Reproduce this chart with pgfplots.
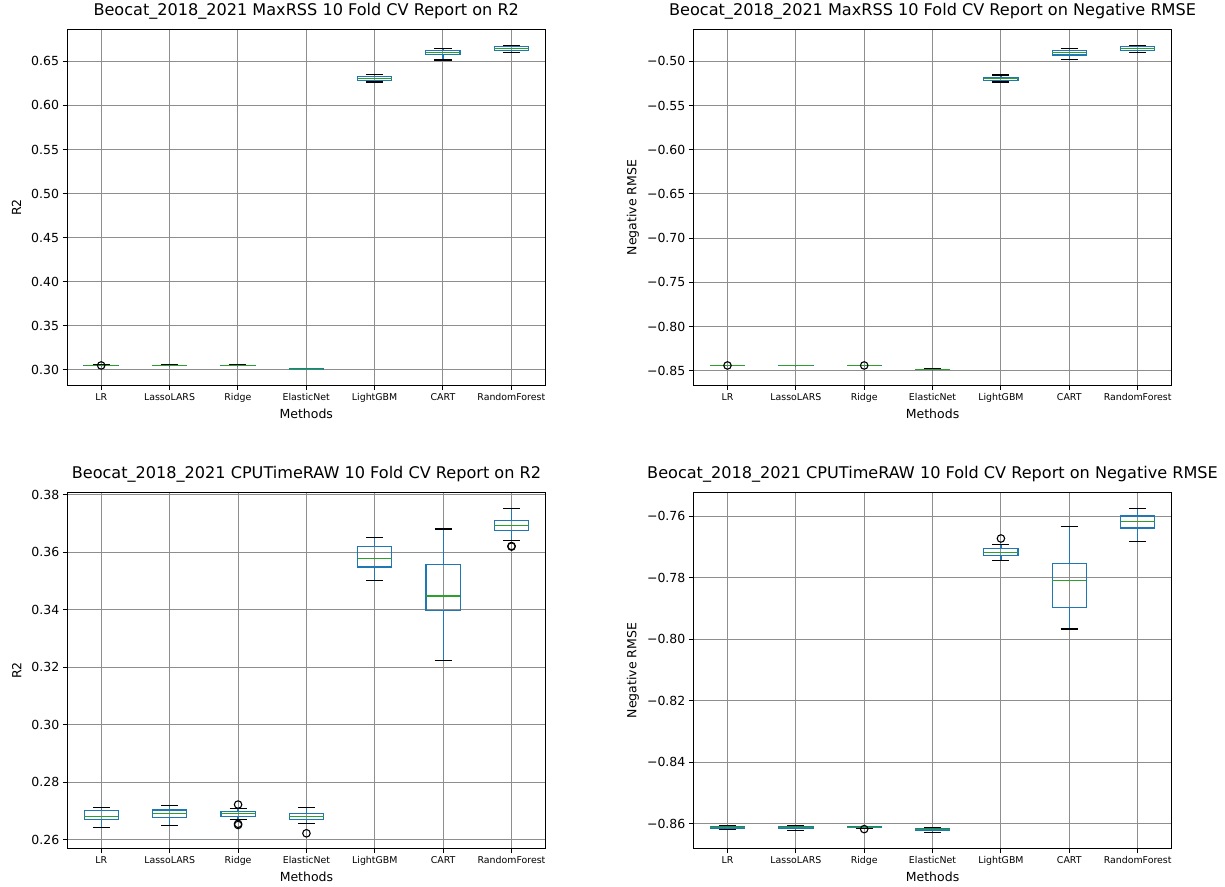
\documentclass[border=0pt]{standalone}
\usepackage{fontspec}
\setmainfont{DejaVu Sans}
\usepackage{pgfplots}
\pgfplotsset{compat=1.18}
\usepgfplotslibrary{statistics}
\definecolor{mblue}{HTML}{1F77B4}
\definecolor{mgreen}{HTML}{2CA02C}
\definecolor{mgrid}{HTML}{8E8E8E}
\newcommand\fs[1]{\fontsize{#1}{#1}\selectfont}
\pgfplotsset{
  mpl/.style={
    scale only axis, width=478.5pt, height=356.5pt, anchor=north west,
    xmin=0.5, xmax=7.5, xtick={1,2,3,4,5,6,7},
    xticklabels={LR,LassoLARS,Ridge,ElasticNet,LightGBM,CART,RandomForest},
    grid=major, grid style={mgrid, line width=1pt},
    tick align=outside, tick pos=left, major tick length=4.4pt,
    every tick/.style={black, line width=1pt},
    axis line style={black, line width=1pt},
    x tick label style={font=\fs{9.4}},
    y tick label style={font=\fs{12.5}},
    title style={font=\fs{16.1}, at={(axis description cs:0.5,1.021)}, anchor=base},
    xlabel={Methods},
    xlabel style={font=\fs{12.5}, at={(axis description cs:0.5,-0.0926)}, anchor=base},
    ylabel style={font=\fs{12.5}, anchor=base},
    boxplot/draw direction=y,
    boxplot/box extend=0.5,
    boxplot/whisker extend=0.25,
    boxplot/every box/.style={draw=mblue, line width=1.2pt},
    boxplot/every median/.style={draw=mgreen, line width=1.2pt},
    boxplot/draw/lower whisker/.code={%
      \draw[mblue, line width=1.2pt] (boxplot cs:\pgfplotsboxplotvalue{lower whisker}) -- (boxplot cs:\pgfplotsboxplotvalue{lower quartile});
      \draw[black, line width=1.2pt] (boxplot whisker cs:\pgfplotsboxplotvalue{lower whisker},0) -- (boxplot whisker cs:\pgfplotsboxplotvalue{lower whisker},1);
    },
    boxplot/draw/upper whisker/.code={%
      \draw[mblue, line width=1.2pt] (boxplot cs:\pgfplotsboxplotvalue{upper whisker}) -- (boxplot cs:\pgfplotsboxplotvalue{upper quartile});
      \draw[black, line width=1.2pt] (boxplot whisker cs:\pgfplotsboxplotvalue{upper whisker},0) -- (boxplot whisker cs:\pgfplotsboxplotvalue{upper whisker},1);
    },
  },
  outl/.style={only marks, mark=o, mark size=3.75pt, black, mark options={line width=1.1pt, black}},
}
% position, lower whisker, lower quartile, median, upper quartile, upper whisker
\newcommand\bp[6]{\addplot[mblue, line width=1.2pt, boxplot prepared={draw position=#1,lower whisker=#2,lower quartile=#3,median=#4,upper quartile=#5,upper whisker=#6}] coordinates {};}
\begin{document}
\begin{tikzpicture}
\useasboundingbox (0,0) rectangle (1225pt,-886pt);
% ---------------- top left
\begin{axis}[mpl, at={(67pt,-29.3pt)},
  title={Beocat\_2018\_2021 MaxRSS 10 Fold CV Report on R2},
  ylabel={R2}, ylabel style={at={(axis description cs:-0.096,0.5)}},
  ymin=0.2819, ymax=0.6863,
  ytick={0.30,0.35,0.40,0.45,0.50,0.55,0.60,0.65},
  yticklabels={0.30,0.35,0.40,0.45,0.50,0.55,0.60,0.65}]
\bp{1}{0.3046}{0.3047}{0.3050}{0.3053}{0.3054}
\bp{2}{0.3046}{0.3047}{0.3050}{0.3053}{0.3054}
\bp{3}{0.3046}{0.3047}{0.3050}{0.3053}{0.3054}
\bp{4}{0.3003}{0.3004}{0.3006}{0.3009}{0.3010}
\bp{5}{0.6266}{0.6285}{0.6307}{0.6326}{0.6349}
\bp{6}{0.6515}{0.6576}{0.6602}{0.6621}{0.6644}
\bp{7}{0.6602}{0.6625}{0.6647}{0.6670}{0.6681}
\addplot[outl] coordinates {(1,0.3050)};
\end{axis}
% ---------------- top right
\begin{axis}[mpl, at={(693.3pt,-29.3pt)},
  title={Beocat\_2018\_2021 MaxRSS 10 Fold CV Report on Negative RMSE},
  ylabel={Negative RMSE}, ylabel style={at={(axis description cs:-0.119,0.5)}},
  ymin=-0.867, ymax=-0.4638,
  ytick={-0.85,-0.80,-0.75,-0.70,-0.65,-0.60,-0.55,-0.50},
  yticklabels={−0.85,−0.80,−0.75,−0.70,−0.65,−0.60,−0.55,−0.50}]
\bp{1}{-0.8444}{-0.8443}{-0.8440}{-0.8437}{-0.8436}
\bp{2}{-0.8444}{-0.8443}{-0.8440}{-0.8437}{-0.8436}
\bp{3}{-0.8444}{-0.8443}{-0.8440}{-0.8437}{-0.8436}
\bp{4}{-0.8488}{-0.8487}{-0.8485}{-0.8482}{-0.8481}
\bp{5}{-0.5234}{-0.5215}{-0.5196}{-0.5181}{-0.5154}
\bp{6}{-0.4977}{-0.4928}{-0.4898}{-0.4876}{-0.4857}
\bp{7}{-0.4898}{-0.4876}{-0.4853}{-0.4830}{-0.4823}
\addplot[outl] coordinates {(1,-0.8440) (3,-0.8440)};
\end{axis}
% ---------------- bottom left
\begin{axis}[mpl, at={(67.2pt,-492.3pt)},
  title={Beocat\_2018\_2021 CPUTimeRAW 10 Fold CV Report on R2},
  ylabel={R2}, ylabel style={at={(axis description cs:-0.096,0.5)}},
  ymin=0.2568, ymax=0.3809,
  ytick={0.26,0.28,0.30,0.32,0.34,0.36,0.38},
  yticklabels={0.26,0.28,0.30,0.32,0.34,0.36,0.38}]
\bp{1}{0.2643}{0.2670}{0.2680}{0.2701}{0.2713}
\bp{2}{0.2648}{0.2677}{0.2691}{0.2703}{0.2720}
\bp{3}{0.2669}{0.2681}{0.2691}{0.2698}{0.2709}
\bp{4}{0.2655}{0.2670}{0.2681}{0.2692}{0.2713}
\bp{5}{0.3503}{0.3549}{0.3578}{0.3620}{0.3651}
\bp{6}{0.3224}{0.3397}{0.3448}{0.3557}{0.3681}
\bp{7}{0.3641}{0.3677}{0.3693}{0.3712}{0.3752}
\addplot[outl] coordinates {(3,0.2722) (3,0.2655) (3,0.2651) (4,0.2622) (7,0.3622) (7,0.3620)};
\end{axis}
% ---------------- bottom right
\begin{axis}[mpl, at={(693.3pt,-492.3pt)},
  title={Beocat\_2018\_2021 CPUTimeRAW 10 Fold CV Report on Negative RMSE},
  ylabel={Negative RMSE}, ylabel style={at={(axis description cs:-0.119,0.5)}},
  ymin=-0.8681, ymax=-0.7523,
  ytick={-0.86,-0.84,-0.82,-0.80,-0.78,-0.76},
  yticklabels={−0.86,−0.84,−0.82,−0.80,−0.78,−0.76}]
\bp{1}{-0.8618}{-0.8616}{-0.8612}{-0.8608}{-0.8607}
\bp{2}{-0.8621}{-0.8615}{-0.8612}{-0.8608}{-0.8605}
\bp{3}{-0.8614}{-0.8613}{-0.8612}{-0.8610}{-0.8609}
\bp{4}{-0.8629}{-0.8622}{-0.8617}{-0.8614}{-0.8611}
\bp{5}{-0.7744}{-0.7728}{-0.7718}{-0.7706}{-0.7692}
\bp{6}{-0.7967}{-0.7897}{-0.7810}{-0.7754}{-0.7635}
\bp{7}{-0.7684}{-0.7639}{-0.7618}{-0.7600}{-0.7576}
\addplot[outl] coordinates {(3,-0.8617) (5,-0.7673)};
\end{axis}
\end{tikzpicture}
\end{document}
